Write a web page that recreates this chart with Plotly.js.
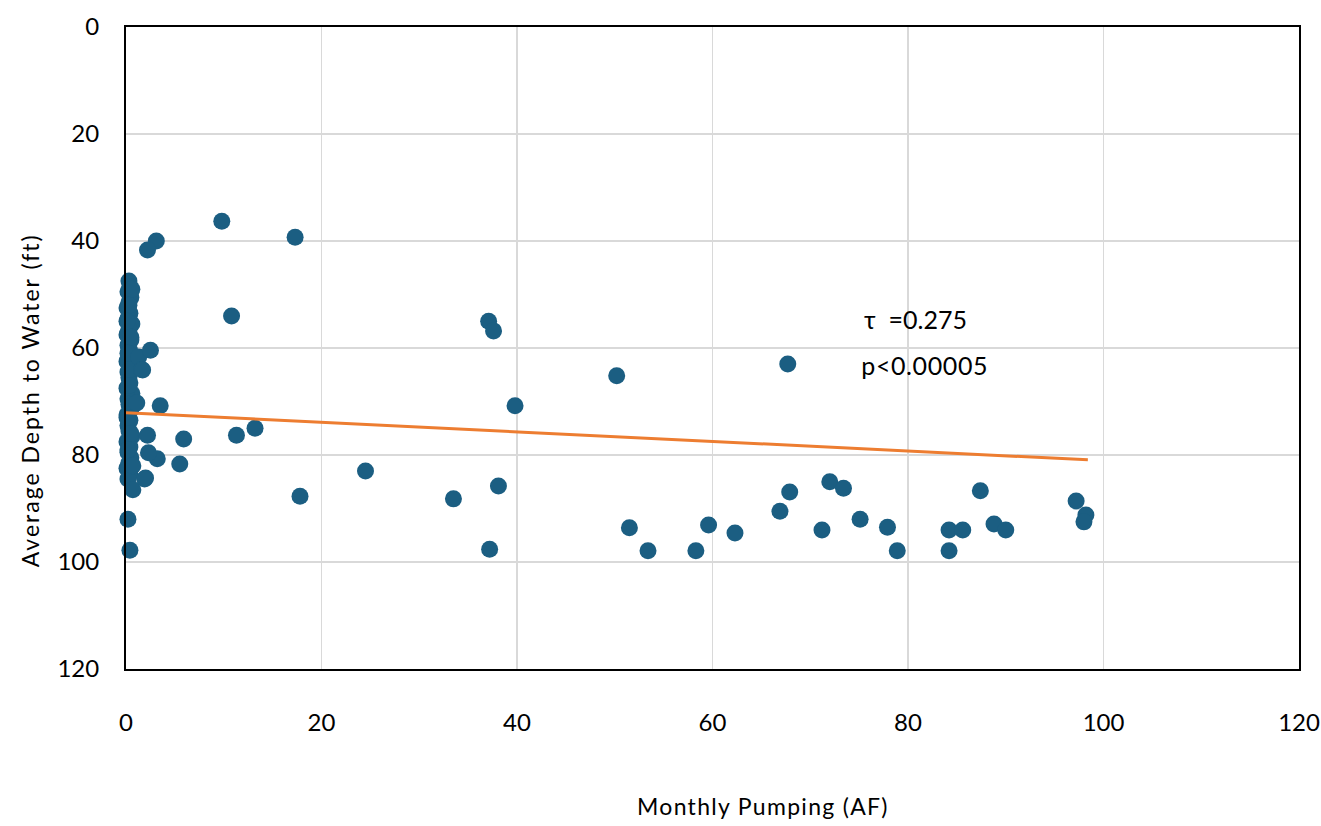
<!DOCTYPE html>
<html><head><meta charset="utf-8">
<script src="https://cdn.plot.ly/plotly-3.0.1.min.js"></script>
<style>body{margin:0;background:#fff}#c{width:1321px;height:826px}</style>
</head><body><div id="c"></div>
<script>
// Monthly pumping (AF) vs average depth to water (ft)
const pumpingAF = [
  0.3,0.4,0.2,0.5,0.3,0.1,0.4,0.2,0.6,0.3,0.1,0.5,0.2,0.4,0.3,0.1,0.5,0.2,0.3,0.4,
  0.1,0.6,0.2,0.3,0.5,0.1,0.4,0.2,0.3,0.6,0.1,0.4,0.2,0.5,0.3,0.1,0.4,0.2,0.6,0.3,
  0.1,0.5,0.2,0.4,0.3,0.8,0.1,0.5,0.2,0.7,
  1.1,1.3,1.6,2.0,0.7,0.2,0.4,
  9.8,3.1,2.2,17.3,10.8,37.1,37.6,50.2,67.7,39.8,3.5,2.5,1.7,13.2,11.3,5.9,2.2,3.2,2.3,
  5.5,1.9,24.5,17.8,33.5,38.1,37.2,51.5,53.4,58.3,59.6,62.3,66.9,67.9,71.2,72.0,73.4,
  75.1,77.9,78.9,84.2,84.2,85.6,87.4,88.8,90.0,97.2,98.2,98.0
];
const depthFt = [
  47.5,48.5,49.5,50.5,51.5,52.5,53.5,54.5,55.5,56.5,57.5,58.5,59.5,60.5,61.5,62.5,63.5,64.5,65.5,66.5,
  67.5,68.5,69.5,70.5,71.5,72.5,73.5,74.5,75.5,76.5,77.5,78.5,79.5,80.5,81.5,82.5,83.5,84.5,49.0,52.0,
  55.0,58.0,61.0,64.0,67.0,70.5,73.0,76.0,79.0,82.0,
  70.3,61.7,64.0,84.3,86.5,92.0,97.8,
  36.3,40.0,41.7,39.3,54.0,55.0,56.8,65.2,63.0,70.8,70.8,60.4,64.1,75.0,76.3,77.0,76.3,80.7,79.6,
  81.7,84.5,83.0,87.7,88.2,85.8,97.6,93.6,97.9,97.9,93.1,94.6,90.5,86.9,94.0,85.0,86.2,
  92.0,93.5,97.9,94.0,97.9,94.0,86.7,92.9,94.0,88.6,91.2,92.5
];
const trendX = [0, 98.4];
const trendY = [72.1, 80.9];
const xTicks = [0, 20, 40, 60, 80, 100, 120];
const yTicks = [0, 20, 40, 60, 80, 100, 120];
const xTitle = 'Monthly Pumping (AF)';
const yTitle = 'Average Depth to Water (ft)';
const statLines = ["τ  =0.275", "p<0.00005"];

const font = "Lato, 'Open Sans', sans-serif";
const L = 126, T = 27, W = 1173, H = 642;
const px = v => (v - L) / W;
const py = v => 1 - (v - T) / H;

const data = [
  {x: pumpingAF, y: depthFt, type: 'scatter', mode: 'markers', cliponaxis: false,
   marker: {color: '#1b5e82', size: 17}, showlegend: false, hoverinfo: 'x+y'},
  {x: trendX, y: trendY, type: 'scatter', mode: 'lines', cliponaxis: false,
   line: {color: '#ed7d31', width: 3}, showlegend: false}
];
const layout = {
  width: 1321, height: 826,
  margin: {l: 126, r: 22, t: 27, b: 157},
  paper_bgcolor: '#fff', plot_bgcolor: '#fff',
  font: {family: font, color: '#000', size: 24},
  xaxis: {range: [0, 120], tickvals: xTicks, ticktext: xTicks.map(String),
    showgrid: true, gridcolor: '#d9d9d9', gridwidth: 1.5, zeroline: false,
    showline: true, linecolor: '#000', linewidth: 2, mirror: true,
    ticks: '', ticklabelstandoff: 31, tickfont: {size: 24}},
  yaxis: {range: [120, 0], tickvals: yTicks, ticktext: yTicks.map(String),
    showgrid: true, gridcolor: '#d9d9d9', gridwidth: 1.5, zeroline: false,
    showline: true, linecolor: '#000', linewidth: 2, mirror: true,
    ticks: '', ticklabelstandoff: 20, tickfont: {size: 24}},
  annotations: [
    {xref: 'paper', yref: 'paper', x: px(763), y: py(806), text: xTitle,
     showarrow: false, xanchor: 'center', yanchor: 'middle', font: {size: 23}},
    {xref: 'paper', yref: 'paper', x: px(30), y: py(400), text: yTitle, textangle: -90,
     showarrow: false, xanchor: 'center', yanchor: 'middle', font: {size: 23}},
    {xref: 'paper', yref: 'paper', x: px(862), y: py(319), text: statLines[0],
     showarrow: false, xanchor: 'left', yanchor: 'middle', font: {size: 25}},
    {xref: 'paper', yref: 'paper', x: px(862), y: py(365), text: statLines[1],
     showarrow: false, xanchor: 'left', yanchor: 'middle', font: {size: 25}}
  ]
};
Plotly.newPlot('c', data, layout, {displayModeBar: false, staticPlot: true}).then(function (gd) {
  const t = gd.querySelectorAll('.annotation-text');
  if (t[0]) t[0].style.letterSpacing = '1.3px';
  if (t[1]) t[1].style.letterSpacing = '2.0px';
  if (t[3]) t[3].style.letterSpacing = '0.6px';
});
</script></body></html>
